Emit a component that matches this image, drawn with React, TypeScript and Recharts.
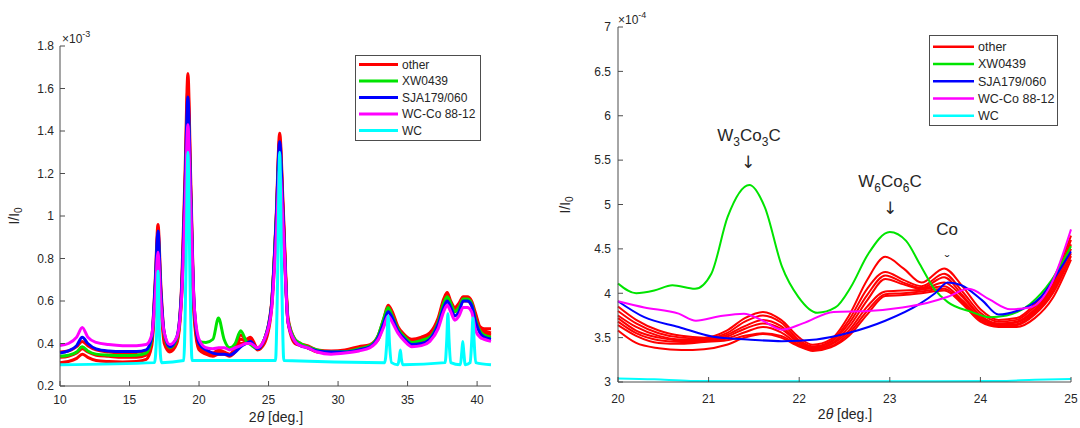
import React from "react";
import { LineChart, Line, XAxis, YAxis } from "recharts";

const FONT = '"Liberation Sans", Arial, Helvetica, sans-serif';
const INK = "#262626";
const AXIS = "#4d4d4d";

const SERIES = ["other", "XW0439", "SJA179/060", "WC-Co 88-12", "WC"];
const COLORS = ["#ff0000", "#00e400", "#0000ff", "#ff00ff", "#00ffff"];

// ---- left panel: full scan, I/I0 in units of 1e-3 ----
const LEFT_X_TICKS = [10, 15, 20, 25, 30, 35, 40];
const LEFT_Y_TICKS = [0.2, 0.4, 0.6, 0.8, 1, 1.2, 1.4, 1.6, 1.8];

const LEFT_X = [
  10, 10.6, 11.2, 11.6, 12.0, 12.6, 13.5, 14.5, 15.5, 16.2,
  16.6, 16.85, 17.05, 17.25, 17.5, 17.9, 18.4, 18.75, 19.0, 19.2,
  19.4, 19.65, 20.0, 20.5, 21.0, 21.4, 21.8, 22.2, 22.6, 23.0,
  23.4, 23.7, 24.2, 24.7, 25.2, 25.55, 25.8, 26.05, 26.4, 26.9,
  27.3, 27.8, 28.5, 29.5, 30.5, 31.5, 32.3, 32.9, 33.3, 33.6,
  33.9, 34.3, 34.8, 35.3, 36.0, 36.6, 37.2, 37.6, 37.85, 38.1,
  38.4, 38.7, 39.0, 39.3, 39.6, 39.9, 40.2, 40.5, 41,
];

const LEFT_OTHER_HI = [
  0.36, 0.365, 0.385, 0.41, 0.39, 0.37, 0.36, 0.355, 0.358, 0.365,
  0.43, 0.7, 0.96, 0.68, 0.44, 0.38, 0.42, 0.68, 1.22, 1.67,
  1.18, 0.58, 0.39, 0.37, 0.355, 0.37, 0.36, 0.35, 0.38, 0.44,
  0.42, 0.43, 0.38, 0.42, 0.58, 1.0, 1.39, 1.05, 0.52, 0.42,
  0.4, 0.39, 0.37, 0.365, 0.37, 0.385, 0.395, 0.44, 0.52, 0.58,
  0.55, 0.48, 0.44, 0.42, 0.43, 0.45, 0.52, 0.61, 0.64, 0.6,
  0.57, 0.59, 0.62, 0.62, 0.6, 0.54, 0.48, 0.47, 0.47,
];
const LEFT_OTHER_MID = [
  0.335, 0.34, 0.355, 0.375, 0.36, 0.345, 0.34, 0.335, 0.335, 0.345,
  0.41, 0.66, 0.92, 0.64, 0.42, 0.37, 0.41, 0.65, 1.15, 1.6,
  1.12, 0.55, 0.38, 0.36, 0.35, 0.36, 0.355, 0.345, 0.37, 0.42,
  0.41, 0.42, 0.375, 0.41, 0.57, 0.98, 1.36, 1.02, 0.51, 0.41,
  0.395, 0.385, 0.365, 0.36, 0.365, 0.38, 0.39, 0.43, 0.51, 0.57,
  0.54, 0.47, 0.43, 0.41, 0.42, 0.44, 0.51, 0.6, 0.63, 0.59,
  0.56, 0.58, 0.61, 0.61, 0.59, 0.53, 0.47, 0.46, 0.45,
];
const LEFT_OTHER_LO = [
  0.31, 0.315, 0.33, 0.35, 0.335, 0.32, 0.315, 0.313, 0.315, 0.325,
  0.39, 0.62, 0.88, 0.6, 0.4, 0.36, 0.4, 0.62, 1.08, 1.52,
  1.05, 0.52, 0.37, 0.35, 0.34, 0.35, 0.35, 0.34, 0.36, 0.4,
  0.4, 0.41, 0.37, 0.4, 0.55, 0.95, 1.32, 1.0, 0.5, 0.4,
  0.39, 0.38, 0.36, 0.355, 0.36, 0.37, 0.385, 0.42, 0.5, 0.56,
  0.53, 0.46, 0.42, 0.4, 0.41, 0.43, 0.5, 0.59, 0.62, 0.58,
  0.55, 0.57, 0.6, 0.6, 0.58, 0.52, 0.46, 0.45, 0.44,
];
const LEFT_XW0439 = [
  0.34, 0.345, 0.36, 0.385, 0.365, 0.35, 0.345, 0.343, 0.345, 0.355,
  0.42, 0.66, 0.9, 0.63, 0.44, 0.38, 0.42, 0.64, 1.1, 1.5,
  1.08, 0.56, 0.41, 0.405, 0.42, 0.52, 0.42, 0.38, 0.4, 0.46,
  0.41, 0.395, 0.375, 0.42, 0.57, 0.98, 1.3, 0.98, 0.51, 0.42,
  0.4, 0.385, 0.37, 0.36, 0.362, 0.375, 0.39, 0.44, 0.52, 0.57,
  0.53, 0.47, 0.43, 0.405, 0.415, 0.43, 0.5, 0.59, 0.62, 0.59,
  0.55, 0.57, 0.61, 0.61, 0.59, 0.51, 0.46, 0.44, 0.43,
];
const LEFT_SJA = [
  0.355, 0.365, 0.39, 0.43, 0.4, 0.375, 0.365, 0.362, 0.362, 0.37,
  0.43, 0.68, 0.93, 0.65, 0.45, 0.385, 0.43, 0.66, 1.15, 1.56,
  1.12, 0.58, 0.4, 0.37, 0.355, 0.35, 0.35, 0.345, 0.36, 0.385,
  0.4, 0.41, 0.375, 0.42, 0.57, 0.98, 1.35, 1.0, 0.5, 0.41,
  0.39, 0.38, 0.365, 0.36, 0.36, 0.37, 0.385, 0.43, 0.5, 0.55,
  0.52, 0.46, 0.42, 0.395, 0.4, 0.42, 0.49, 0.57, 0.6, 0.57,
  0.53, 0.55, 0.6, 0.6, 0.58, 0.5, 0.45, 0.43, 0.42,
];
const LEFT_WCCO = [
  0.39, 0.4, 0.43, 0.475, 0.43, 0.405, 0.395, 0.39, 0.39, 0.395,
  0.44, 0.62, 0.83, 0.6, 0.45, 0.395, 0.43, 0.62, 1.05, 1.43,
  1.05, 0.58, 0.42, 0.38, 0.375, 0.38, 0.38, 0.37, 0.38, 0.39,
  0.4, 0.4, 0.38, 0.42, 0.55, 0.9, 1.22, 0.95, 0.5, 0.41,
  0.39, 0.38, 0.36, 0.35, 0.355, 0.365, 0.38, 0.42, 0.48, 0.53,
  0.5, 0.45, 0.41, 0.385, 0.39, 0.41, 0.47, 0.55, 0.58, 0.55,
  0.51, 0.53, 0.57, 0.57, 0.55, 0.46, 0.43, 0.42, 0.41,
];
// reference WC pattern: sharp lines on a flat 0.3 baseline
const LEFT_WC_X = [
  10, 16.8, 16.95, 17.05, 17.15, 17.3, 18.9, 19.05, 19.2, 19.35, 19.5,
  25.5, 25.65, 25.8, 25.95, 26.1, 33.35, 33.5, 33.6, 33.7, 33.85,
  34.3, 34.4, 34.48, 34.55, 34.65, 37.7, 37.82, 37.9, 37.98, 38.1,
  38.8, 38.9, 38.97, 39.04, 39.15, 39.5, 39.62, 39.7, 39.78, 39.9, 41,
];
const LEFT_WC_Y = [
  0.3, 0.31, 0.45, 0.74, 0.45, 0.31, 0.32, 0.7, 1.3, 0.7, 0.32,
  0.32, 0.7, 1.3, 0.7, 0.32, 0.31, 0.4, 0.53, 0.4, 0.31,
  0.3, 0.33, 0.37, 0.33, 0.3, 0.31, 0.42, 0.54, 0.42, 0.31,
  0.3, 0.36, 0.41, 0.36, 0.3, 0.31, 0.42, 0.52, 0.42, 0.31, 0.3,
];

// ---- right panel: 20-25 deg detail, I/I0 in units of 1e-4 ----
const RIGHT_X_TICKS = [20, 21, 22, 23, 24, 25];
const RIGHT_Y_TICKS = [3, 3.5, 4, 4.5, 5, 5.5, 6, 6.5, 7];

const RIGHT_OTHER_X = [
  20, 20.2, 20.45, 20.7, 20.95, 21.2, 21.4, 21.6, 21.8, 22.0, 22.15, 22.35, 22.55,
  22.75, 22.95, 23.15, 23.35, 23.6, 23.8, 24.0, 24.2, 24.4, 24.6, 24.8, 25,
];
const RIGHT_OTHER_1 = [3.85, 3.7, 3.58, 3.52, 3.5, 3.58, 3.72, 3.79, 3.7, 3.5, 3.42, 3.48, 3.75, 4.15, 4.41, 4.28, 4.12, 4.28, 4.08, 3.82, 3.7, 3.72, 3.88, 4.15, 4.65];
const RIGHT_OTHER_2 = [3.8, 3.66, 3.55, 3.5, 3.49, 3.55, 3.68, 3.75, 3.67, 3.47, 3.4, 3.46, 3.7, 4.05, 4.24, 4.15, 4.08, 4.22, 4.02, 3.78, 3.68, 3.7, 3.85, 4.1, 4.6];
const RIGHT_OTHER_3 = [3.75, 3.62, 3.52, 3.48, 3.48, 3.53, 3.63, 3.7, 3.63, 3.45, 3.39, 3.45, 3.66, 3.98, 4.2, 4.12, 4.06, 4.18, 3.98, 3.75, 3.66, 3.68, 3.82, 4.08, 4.55];
const RIGHT_OTHER_4 = [3.72, 3.58, 3.5, 3.47, 3.47, 3.51, 3.6, 3.66, 3.6, 3.44, 3.38, 3.43, 3.62, 3.92, 4.16, 4.1, 4.05, 4.12, 3.96, 3.74, 3.65, 3.67, 3.8, 4.05, 4.5];
const RIGHT_OTHER_5 = [3.68, 3.55, 3.47, 3.45, 3.46, 3.49, 3.56, 3.62, 3.56, 3.42, 3.37, 3.42, 3.58, 3.85, 4.02, 4.03, 4.04, 4.08, 3.92, 3.72, 3.64, 3.65, 3.78, 4.02, 4.45];
const RIGHT_OTHER_6 = [3.64, 3.52, 3.44, 3.43, 3.45, 3.47, 3.52, 3.55, 3.52, 3.41, 3.36, 3.4, 3.55, 3.8, 3.99, 4.0, 4.02, 4.05, 3.9, 3.7, 3.63, 3.64, 3.76, 4.0, 4.42];
const RIGHT_OTHER_7 = [3.58, 3.44, 3.38, 3.36, 3.37, 3.42, 3.5, 3.54, 3.5, 3.4, 3.35, 3.39, 3.52, 3.76, 3.97, 3.98, 4.0, 4.03, 3.88, 3.68, 3.62, 3.62, 3.72, 3.95, 4.38];

const RIGHT_XW0439_X = [20, 20.2, 20.4, 20.6, 20.85, 21.03, 21.21, 21.45, 21.62, 21.81, 21.99, 22.2, 22.4, 22.57, 22.76, 23.0, 23.18, 23.33, 23.49, 23.64, 23.9, 24.1, 24.29, 24.55, 24.78, 25];
const RIGHT_XW0439_Y = [4.11, 4.0, 4.03, 4.09, 4.05, 4.22, 4.86, 5.22, 4.97, 4.3, 3.96, 3.78, 3.84, 4.07, 4.44, 4.69, 4.59, 4.33, 4.05, 3.9, 3.79, 3.73, 3.75, 3.88, 4.14, 4.53];

const RIGHT_SJA_X = [20, 20.29, 20.67, 21.05, 21.43, 21.81, 22.19, 22.57, 22.95, 23.33, 23.5, 23.64, 23.79, 24.02, 24.2, 24.4, 24.67, 24.86, 25];
const RIGHT_SJA_Y = [3.91, 3.73, 3.62, 3.51, 3.48, 3.46, 3.48, 3.56, 3.69, 3.88, 4.0, 4.12, 4.09, 3.92, 3.76, 3.8, 3.96, 4.24, 4.47];

const RIGHT_WCCO_X = [20, 20.29, 20.67, 20.86, 21.12, 21.39, 21.58, 21.81, 22.04, 22.38, 22.76, 23.14, 23.41, 23.64, 23.87, 24.1, 24.33, 24.55, 24.78, 25];
const RIGHT_WCCO_Y = [3.91, 3.84, 3.77, 3.69, 3.74, 3.77, 3.7, 3.59, 3.66, 3.79, 3.8, 3.84, 3.89, 3.96, 4.05, 3.93, 3.82, 3.84, 4.1, 4.72];

const RIGHT_WC_X = [20, 20.4, 20.8, 21.5, 22.5, 23.5, 24.2, 24.6, 25];
const RIGHT_WC_Y = [3.04, 3.03, 3.012, 3.008, 3.008, 3.008, 3.012, 3.025, 3.035];

const pts = (xs: number[], ys: number[]) => xs.map((x, i) => ({ x, y: ys[i] }));

type Trace = { id: string; color: string; data: { x: number; y: number }[] };

const leftTraces: Trace[] = [
  { id: "o-lo", color: COLORS[0], data: pts(LEFT_X, LEFT_OTHER_LO) },
  { id: "o-mid", color: COLORS[0], data: pts(LEFT_X, LEFT_OTHER_MID) },
  { id: "o-hi", color: COLORS[0], data: pts(LEFT_X, LEFT_OTHER_HI) },
  { id: "xw", color: COLORS[1], data: pts(LEFT_X, LEFT_XW0439) },
  { id: "sja", color: COLORS[2], data: pts(LEFT_X, LEFT_SJA) },
  { id: "wcco", color: COLORS[3], data: pts(LEFT_X, LEFT_WCCO) },
  { id: "wc", color: COLORS[4], data: pts(LEFT_WC_X, LEFT_WC_Y) },
];

const rightTraces: Trace[] = [
  RIGHT_OTHER_1, RIGHT_OTHER_2, RIGHT_OTHER_3, RIGHT_OTHER_4,
  RIGHT_OTHER_5, RIGHT_OTHER_6, RIGHT_OTHER_7,
].map((ys, i) => ({ id: `o${i}`, color: COLORS[0], data: pts(RIGHT_OTHER_X, ys) }));
rightTraces.push(
  { id: "xw", color: COLORS[1], data: pts(RIGHT_XW0439_X, RIGHT_XW0439_Y) },
  { id: "sja", color: COLORS[2], data: pts(RIGHT_SJA_X, RIGHT_SJA_Y) },
  { id: "wcco", color: COLORS[3], data: pts(RIGHT_WCCO_X, RIGHT_WCCO_Y) },
  { id: "wc", color: COLORS[4], data: pts(RIGHT_WC_X, RIGHT_WC_Y) },
);

const tickStyle = { fontSize: 12, fill: INK, fontFamily: FONT };

// MATLAB-style legend box, drawn in the overlay
function LegendBox({ x, y, w, h, lineLen, lineW, row0, rowGap, fontSize }: {
  x: number; y: number; w: number; h: number; lineLen: number; lineW: number;
  row0: number; rowGap: number; fontSize: number;
}) {
  return (
    <g>
      <rect x={x + 0.5} y={y + 0.5} width={w} height={h} fill="#fff" stroke={AXIS} strokeWidth={1} />
      {SERIES.map((name, i) => {
        const cy = row0 + i * rowGap;
        return (
          <g key={name}>
            <line x1={x + 4} x2={x + 4 + lineLen} y1={cy} y2={cy} stroke={COLORS[i]} strokeWidth={lineW} />
            <text x={x + 8 + lineLen} y={cy + fontSize * 0.36} fontSize={fontSize} fill={INK}>
              {name}
            </text>
          </g>
        );
      })}
    </g>
  );
}

const ARROW_FONT = '"DejaVu Sans", sans-serif';

export default function App() {
  return (
    <div style={{ position: "absolute", left: 0, top: 0, width: 1080, height: 428, background: "#fff", fontFamily: FONT }}>
      <div style={{ position: "absolute", left: 0, top: 0 }}>
        <LineChart width={540} height={428} margin={{ top: 46, right: 49, left: 8, bottom: 12 }}>
          <XAxis
            dataKey="x"
            type="number"
            domain={[10, 41]}
            ticks={LEFT_X_TICKS}
            interval={0}
            height={30}
            tickSize={-5}
            tickMargin={14}
            stroke={AXIS}
            tick={tickStyle}
          />
          <YAxis
            type="number"
            domain={[0.2, 1.8]}
            ticks={LEFT_Y_TICKS}
            interval={0}
            width={52}
            tickSize={-5}
            tickMargin={11}
            stroke={AXIS}
            tick={tickStyle}
          />
          {leftTraces.map((t) => (
            <Line
              key={t.id}
              data={t.data}
              dataKey="y"
              type="monotone"
              stroke={t.color}
              strokeWidth={3}
              strokeLinejoin="round"
              dot={false}
              activeDot={false}
              isAnimationActive={false}
            />
          ))}
        </LineChart>
      </div>

      <div style={{ position: "absolute", left: 540, top: 0 }}>
        <LineChart width={540} height={428} margin={{ top: 27, right: 9, left: 33, bottom: 16 }}>
          <XAxis
            dataKey="x"
            type="number"
            domain={[20, 25]}
            ticks={RIGHT_X_TICKS}
            interval={0}
            height={30}
            tickSize={-5}
            tickMargin={17}
            stroke={AXIS}
            tick={tickStyle}
          />
          <YAxis
            type="number"
            domain={[3, 7]}
            ticks={RIGHT_Y_TICKS}
            interval={0}
            width={45}
            tickSize={-5}
            tickMargin={12}
            stroke={AXIS}
            tick={tickStyle}
          />
          {rightTraces.map((t) => (
            <Line
              key={t.id}
              data={t.data}
              dataKey="y"
              type="monotone"
              stroke={t.color}
              strokeWidth={2}
              strokeLinejoin="round"
              dot={false}
              activeDot={false}
              isAnimationActive={false}
            />
          ))}
        </LineChart>
      </div>

      <svg
        width={1080}
        height={428}
        style={{ position: "absolute", left: 0, top: 0, pointerEvents: "none", fontFamily: FONT }}
      >
        {/* left panel labels */}
        <text x={62} y={43} fontSize={12} fill={INK}>
          ×10<tspan dy={-6} fontSize={9}>-3</tspan>
        </text>
        <text transform="translate(19,216) rotate(-90)" textAnchor="middle" fontSize={14} fill={INK}>
          I/I<tspan dy={3} fontSize={10}>0</tspan>
        </text>
        <text x={276} y={422} textAnchor="middle" fontSize={14} fill={INK}>
          2<tspan fontStyle="italic">θ</tspan> [deg.]
        </text>
        <LegendBox x={355} y={55} w={125} h={85} lineLen={39} lineW={3} row0={64.5} rowGap={16.5} fontSize={12} />

        {/* right panel labels */}
        <text x={618} y={24} fontSize={12} fill={INK}>
          ×10<tspan dy={-6} fontSize={9}>-4</tspan>
        </text>
        <text transform="translate(570,205) rotate(-90)" textAnchor="middle" fontSize={14} fill={INK}>
          I/I<tspan dy={3} fontSize={10}>0</tspan>
        </text>
        <text x={845} y={419} textAnchor="middle" fontSize={14} fill={INK}>
          2<tspan fontStyle="italic">θ</tspan> [deg.]
        </text>

        <text x={749} y={141} textAnchor="middle" fontSize={17} fill={INK}>
          W<tspan dy={5} fontSize={12}>3</tspan>
          <tspan dy={-5}>Co</tspan>
          <tspan dy={5} fontSize={12}>3</tspan>
          <tspan dy={-5}>C</tspan>
        </text>
        <text x={748} y={168} textAnchor="middle" fontSize={17} fontFamily={ARROW_FONT} fill={INK}>↓</text>

        <text x={890} y={187} textAnchor="middle" fontSize={17} fill={INK}>
          W<tspan dy={5} fontSize={12}>6</tspan>
          <tspan dy={-5}>Co</tspan>
          <tspan dy={5} fontSize={12}>6</tspan>
          <tspan dy={-5}>C</tspan>
        </text>
        <text x={890} y={214} textAnchor="middle" fontSize={17} fontFamily={ARROW_FONT} fill={INK}>↓</text>

        <text x={947} y={235} textAnchor="middle" fontSize={17} fill={INK}>Co</text>
        <text x={947} y={266} textAnchor="middle" fontSize={14} fill={INK}>ˇ</text>

        <LegendBox x={929} y={35} w={128} h={90} lineLen={41} lineW={2.5} row0={46.7} rowGap={17.25} fontSize={12.5} />
      </svg>
    </div>
  );
}
